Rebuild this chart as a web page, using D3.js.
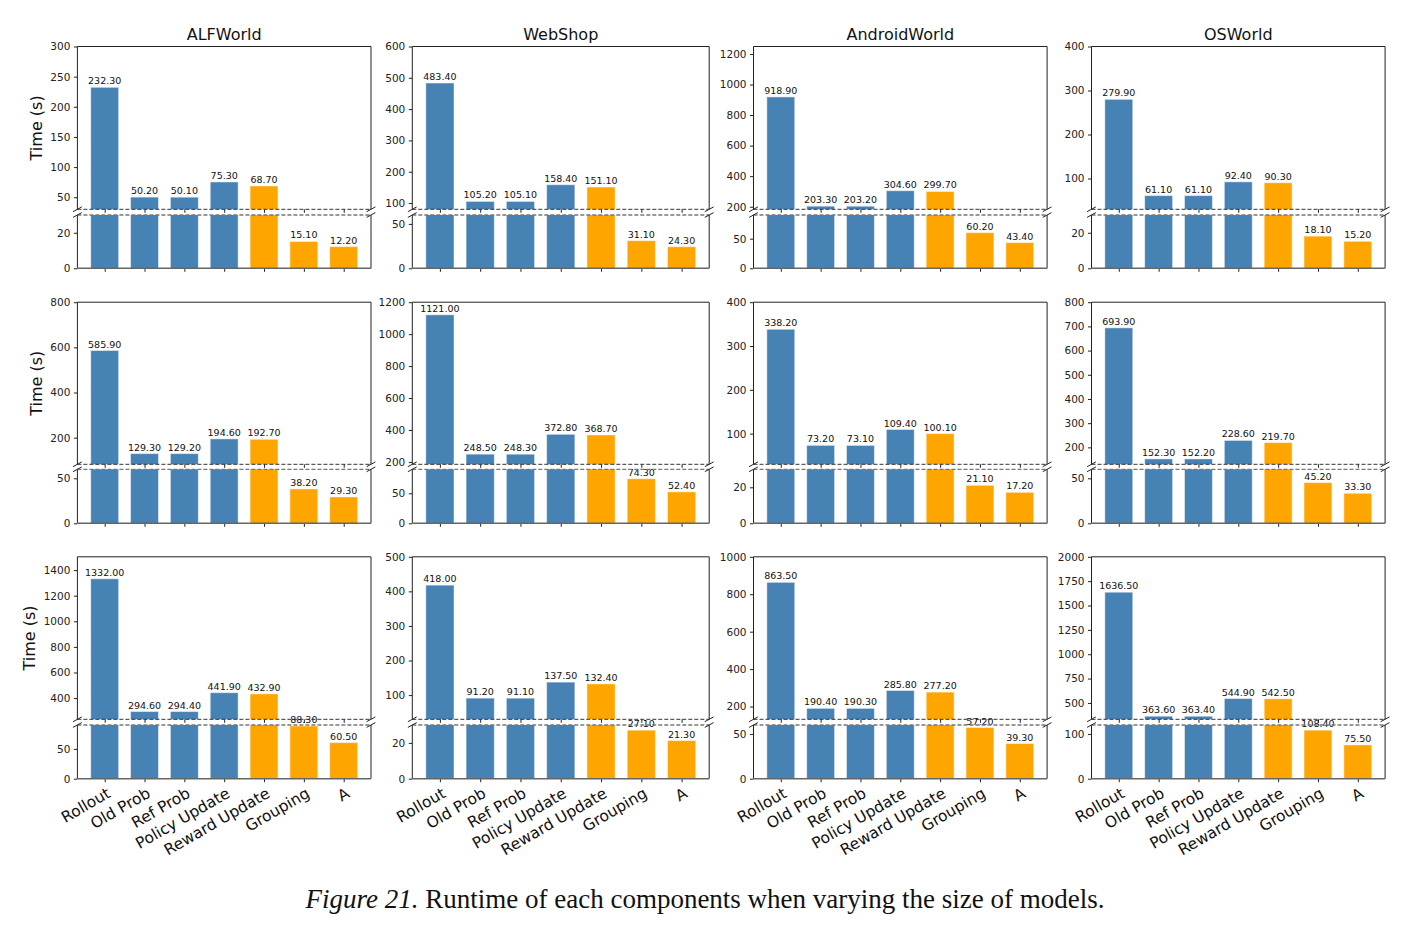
<!DOCTYPE html>
<html>
<head>
<meta charset="utf-8">
<script src="https://cdn.jsdelivr.net/npm/d3@7"></script>
<style>
  body { margin: 0; background: #fff; }
  svg { display: block; }
  text { font-family: "DejaVu Sans", sans-serif; }
</style>
</head>
<body>
<svg id="chart" width="1413" height="931"></svg>
<script>
const categories = ["Rollout", "Old Prob", "Ref Prob", "Policy Update", "Reward Update", "Grouping", "A"];
const environments = ["ALFWorld", "WebShop", "AndroidWorld", "OSWorld"];

// one row per model size, top to bottom
const alfworldTimes = [
  [232.3, 50.2, 50.1, 75.3, 68.7, 15.1, 12.2],
  [585.9, 129.3, 129.2, 194.6, 192.7, 38.2, 29.3],
  [1332.0, 294.6, 294.4, 441.9, 432.9, 88.3, 60.5]
];
const webshopTimes = [
  [483.4, 105.2, 105.1, 158.4, 151.1, 31.1, 24.3],
  [1121.0, 248.5, 248.3, 372.8, 368.7, 74.3, 52.4],
  [418.0, 91.2, 91.1, 137.5, 132.4, 27.1, 21.3]
];
const androidworldTimes = [
  [918.9, 203.3, 203.2, 304.6, 299.7, 60.2, 43.4],
  [338.2, 73.2, 73.1, 109.4, 100.1, 21.1, 17.2],
  [863.5, 190.4, 190.3, 285.8, 277.2, 57.2, 39.3]
];
const osworldTimes = [
  [279.9, 61.1, 61.1, 92.4, 90.3, 18.1, 15.2],
  [693.9, 152.3, 152.2, 228.6, 219.7, 45.2, 33.3],
  [1636.5, 363.6, 363.4, 544.9, 542.5, 108.4, 75.5]
];
const barColors = ["steelblue", "steelblue", "steelblue", "steelblue", "orange", "orange", "orange"];

// broken y axis: upper part and lower part ranges, [row][column]
const upperRanges = [
  [[30, 300], [80, 600], [183, 1249], [30, 400]],
  [[82, 800], [185, 1200], [30, 400], [130, 800]],
  [[234, 1504], [30, 500], [132, 1000], [332, 2000]]
];
const lowerRanges = [
  [[0, 30], [0, 60], [0, 90], [0, 30]],
  [[0, 60], [0, 90], [0, 30], [0, 60]],
  [[0, 90], [0, 30], [0, 60], [0, 120]]
];
const upperTicks = [
  [[50, 100, 150, 200, 250, 300], [100, 200, 300, 400, 500, 600], [200, 400, 600, 800, 1000, 1200], [100, 200, 300, 400]],
  [[200, 400, 600, 800], [200, 400, 600, 800, 1000, 1200], [100, 200, 300, 400], [200, 300, 400, 500, 600, 700, 800]],
  [[400, 600, 800, 1000, 1200, 1400], [100, 200, 300, 400, 500], [200, 400, 600, 800, 1000], [500, 750, 1000, 1250, 1500, 1750, 2000]]
];
const lowerTicks = [
  [[0, 20], [0, 50], [0, 50], [0, 20]],
  [[0, 50], [0, 50], [0, 20], [0, 50]],
  [[0, 50], [0, 20], [0, 50], [0, 100]]
];

const timesByEnv = [alfworldTimes, webshopTimes, androidworldTimes, osworldTimes];

// layout
const colX = [[77.4, 371], [412.3, 709.2], [753.5, 1047.1], [1091.5, 1385.1]];
const rowY = [
  { top: 46.5, brk1: 209.3, brk2: 215, bottom: 268.3 },
  { top: 302.2, brk1: 464.3, brk2: 469.3, bottom: 523.3 },
  { top: 556.8, brk1: 719.3, brk2: 725, bottom: 778.7 }
];

const svg = d3.select("#chart");
const defs = svg.append("defs");

function styleAxis(g) {
  g.select(".domain").remove();
  g.selectAll(".tick line").attr("stroke", "#222").attr("stroke-width", 1);
  g.selectAll(".tick text").attr("fill", "#222").style("font-size", "10.5px")
    .style("font-family", "DejaVu Sans, sans-serif");
}

environments.forEach((env, c) => {
  const [x0, x1] = colX[c];
  const x = d3.scaleLinear().domain([-0.685, 6.685]).range([x0, x1]);
  const bw = x(0.35) - x(-0.35);

  rowY.forEach((ry, r) => {
    const vals = timesByEnv[c][r];
    const yTop = d3.scaleLinear().domain(upperRanges[r][c]).range([ry.brk1, ry.top]);
    const yBot = d3.scaleLinear().domain(lowerRanges[r][c]).range([ry.bottom, ry.brk2]);
    const panel = svg.append("g");

    const parts = [
      { y: yTop, y0: ry.top, y1: ry.brk1, ticks: upperTicks[r][c], upper: true },
      { y: yBot, y0: ry.brk2, y1: ry.bottom, ticks: lowerTicks[r][c], upper: false }
    ];

    parts.forEach((p, k) => {
      const id = `clip-${r}-${c}-${k}`;
      defs.append("clipPath").attr("id", id).append("rect")
        .attr("x", x0).attr("y", p.y0).attr("width", x1 - x0).attr("height", p.y1 - p.y0);

      const g = panel.append("g");
      g.append("g").attr("clip-path", `url(#${id})`)
        .selectAll("rect").data(vals).join("rect")
        .attr("x", (d, i) => x(i) - bw / 2)
        .attr("width", bw)
        .attr("y", d => Math.min(p.y(d), p.y1 + 5))
        .attr("height", d => Math.max(0, p.y1 + 10 - p.y(d)))
        .attr("fill", (d, i) => barColors[i])
        .attr("stroke", "#ffffff").attr("stroke-opacity", 0.45).attr("stroke-width", 1);

      // value labels: upper part for values above the break, lower part otherwise
      const lowTop = upperRanges[r][c][0];
      g.selectAll("text.val").data(vals.map((v, i) => ({ v, i })).filter(d => p.upper ? d.v > lowTop : d.v <= lowTop))
        .join("text").attr("class", "val")
        .attr("x", d => x(d.i))
        .attr("y", d => p.y(d.v) - 3)
        .attr("text-anchor", "middle")
        .style("font-size", "9.5px").attr("fill", "#111")
        .text(d => d.v.toFixed(2));

      // y axis
      g.append("g").attr("transform", `translate(${x0},0)`)
        .call(d3.axisLeft(p.y).tickValues(p.ticks).tickSize(3.5).tickPadding(3.5).tickFormat(d3.format("d")))
        .call(styleAxis);

      // x ticks at the bottom of each part
      g.append("g").attr("transform", `translate(0,${p.y1})`)
        .call(d3.axisBottom(x).tickValues(d3.range(categories.length)).tickSize(3.5).tickFormat(""))
        .call(styleAxis);

      // solid spines
      const solid = g.append("g").attr("stroke", "#222").attr("stroke-width", 1).attr("fill", "none");
      solid.append("line").attr("x1", x0).attr("x2", x0).attr("y1", p.y0).attr("y2", p.y1);
      solid.append("line").attr("x1", x1).attr("x2", x1).attr("y1", p.y0).attr("y2", p.y1);
      if (p.upper) {
        solid.append("line").attr("x1", x0).attr("x2", x1).attr("y1", p.y0).attr("y2", p.y0);
        g.append("line").attr("x1", x0).attr("x2", x1).attr("y1", p.y1).attr("y2", p.y1)
          .attr("stroke", "#333").attr("stroke-width", 1).attr("stroke-dasharray", "4,2");
      } else {
        g.append("line").attr("x1", x0).attr("x2", x1).attr("y1", p.y1).attr("y2", p.y1)
          .attr("stroke", "#666").attr("stroke-width", 1.4);
        g.append("line").attr("x1", x0).attr("x2", x1).attr("y1", p.y0).attr("y2", p.y0)
          .attr("stroke", "#777").attr("stroke-width", 1.3).attr("stroke-dasharray", "4,2");
      }
    });

    // break marks
    [[x0, ry.brk1], [x1, ry.brk1], [x0, ry.brk2], [x1, ry.brk2]].forEach(([bx, by]) => {
      panel.append("line")
        .attr("x1", bx - 4.4).attr("y1", by + 2.4)
        .attr("x2", bx + 4.4).attr("y2", by - 2.4)
        .attr("stroke", "#222").attr("stroke-width", 1);
    });

    if (r === 0) {
      svg.append("text").attr("x", (x0 + x1) / 2).attr("y", ry.top - 6.5)
        .attr("text-anchor", "middle").style("font-size", "16px").attr("fill", "#111")
        .text(env);
    }
    if (c === 0) {
      // the label sits left of the widest tick label
      const widest = d3.max(upperTicks[r][c], t => String(t).length);
      svg.append("text")
        .attr("transform", `translate(${widest > 3 ? 29 : 36},${(ry.top + ry.brk1) / 2}) rotate(-90)`)
        .attr("text-anchor", "middle").attr("dy", "0.35em")
        .style("font-size", "16px").attr("fill", "#111")
        .text("Time (s)");
    }
    if (r === rowY.length - 1) {
      svg.append("g").selectAll("text").data(categories).join("text")
        .attr("transform", (d, i) => `translate(${x(i) + 1},${ry.bottom + 7.5}) rotate(-30)`)
        .attr("text-anchor", "end").attr("dy", "0.76em")
        .style("font-size", "15.5px").attr("fill", "#111")
        .text(d => d);
    }
  });
});

// caption
const cap = svg.append("text").attr("x", 705).attr("y", 908).attr("text-anchor", "middle")
  .style("font-family", "'Liberation Serif', 'Times New Roman', serif").style("font-size", "27px").attr("fill", "#111");
cap.append("tspan").style("font-style", "italic").style("font-family", "'Liberation Serif', serif").text("Figure 21.");
cap.append("tspan").style("font-family", "'Liberation Serif', serif").text(" Runtime of each components when varying the size of models.");
</script>
</body>
</html>
